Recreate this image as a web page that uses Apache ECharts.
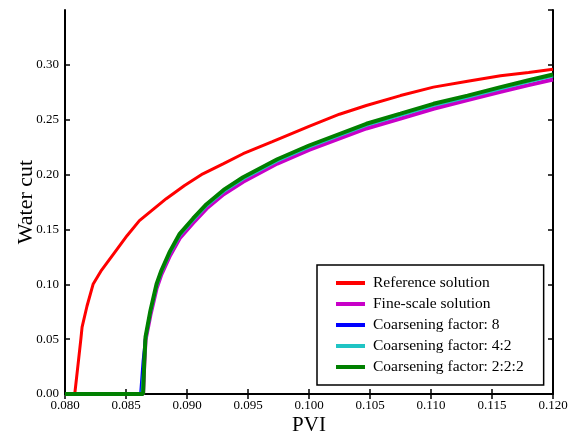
<!DOCTYPE html>
<html>
<head>
<meta charset="utf-8">
<script src="https://cdn.jsdelivr.net/npm/echarts@6/dist/echarts.min.js"></script>
<style>html,body{margin:0;padding:0;background:#fff}#c{width:577px;height:441px}</style>
</head>
<body>
<div id="c"></div>
<script>
var seriesNames = ['Reference solution','Fine-scale solution','Coarsening factor: 8','Coarsening factor: 4:2','Coarsening factor: 2:2:2'];
var xTicks = [0.080,0.085,0.090,0.095,0.100,0.105,0.110,0.115,0.120];
var yTicks = [0.00,0.05,0.10,0.15,0.20,0.25,0.30];

var refSolution = [[0.080,0],[0.0808,0],[0.0811,0.03],[0.0813,0.05],[0.0814,0.061],[0.0818,0.08],[0.0823,0.10],[0.0830,0.113],[0.0840,0.128],[0.0851,0.1445],[0.0861,0.158],[0.0872,0.168],[0.0883,0.178],[0.0898,0.190],[0.0913,0.2007],[0.0930,0.210],[0.0946,0.219],[0.0970,0.230],[0.1000,0.244],[0.1025,0.255],[0.1047,0.263],[0.1075,0.272],[0.1102,0.2797],[0.1130,0.285],[0.1157,0.290],[0.1180,0.293],[0.1200,0.296]];
var fineScale = [[0.080,0],[0.0864,0],[0.0865,0.028],[0.0866,0.049],[0.0870,0.072],[0.0875,0.096],[0.0879,0.109],[0.0886,0.126],[0.0894,0.142],[0.0905,0.156],[0.0916,0.169],[0.0930,0.182],[0.0946,0.1935],[0.0974,0.210],[0.1000,0.2225],[0.1047,0.242],[0.1075,0.251],[0.1102,0.260],[0.1130,0.268],[0.1157,0.2755],[0.1180,0.2815],[0.1200,0.2867]];
var coarse8 = [[0.080,0],[0.0862,0],[0.0864,0.03],[0.0866,0.051],[0.0870,0.075],[0.0875,0.099],[0.0879,0.112],[0.0886,0.129],[0.0894,0.145],[0.0905,0.159],[0.0916,0.172],[0.0930,0.185],[0.0946,0.197],[0.0974,0.2132],[0.1000,0.2257],[0.1047,0.2455],[0.1075,0.2547],[0.1102,0.2637],[0.1130,0.2712],[0.1157,0.2789],[0.1180,0.2852],[0.1200,0.2904]];
var coarse42 = [[0.080,0],[0.0863,0],[0.0865,0.029],[0.0866,0.050],[0.0870,0.074],[0.0875,0.098],[0.0879,0.111],[0.0886,0.1285],[0.0894,0.1445],[0.0905,0.1585],[0.0916,0.1715],[0.0930,0.1845],[0.0946,0.196],[0.0974,0.2125],[0.1000,0.225],[0.1047,0.2448],[0.1075,0.254],[0.1102,0.263],[0.1130,0.2705],[0.1157,0.2782],[0.1180,0.2845],[0.1200,0.2897]];
var coarse222 = [[0.080,0],[0.0864,0],[0.0865,0.03],[0.0866,0.052],[0.0870,0.076],[0.0875,0.10],[0.0879,0.1126],[0.0886,0.130],[0.0894,0.146],[0.0905,0.160],[0.0916,0.173],[0.0930,0.186],[0.0946,0.1976],[0.0974,0.214],[0.1000,0.2265],[0.1047,0.2463],[0.1075,0.2555],[0.1102,0.2645],[0.1130,0.272],[0.1157,0.2797],[0.1180,0.2860],[0.1200,0.2912]];

var colors = ['#ff0000','#c800c8','#0000ff','#20c4c4','#008000'];
var widths = [3,4,3,3,4];
var datas = [refSolution, fineScale, coarse8, coarse42, coarse222];
var font = 'Liberation Serif';

var series = seriesNames.map(function(n,i){
  return {
    name:n, type:'line', data:datas[i], showSymbol:false, symbol:'none',
    smooth:false, animation:false, z: 2+i,
    lineStyle:{color:colors[i], width:widths[i]},
    itemStyle:{color:colors[i]}
  };
});

var axisLine = {show:true, lineStyle:{color:'#000', width:2}};
var chart = echarts.init(document.getElementById('c'));
chart.setOption({
  animation:false,
  backgroundColor:'#fff',
  grid:{left:65, right:24, top:10, bottom:47},
  legend:{
    orient:'vertical', left:317, top:265,
    padding:[10,20,10,19], itemGap:5,
    itemWidth:29, itemHeight:16,
    icon:'path://M0,0 L29,0 L29,4 L0,4 Z',
    borderColor:'#000', borderWidth:1.5, backgroundColor:'#fff',
    textStyle:{fontFamily:font, fontSize:15.5, color:'#000', padding:[0,0,0,3]},
    data:seriesNames
  },
  xAxis:[{
    type:'value', min:0.08, max:0.12, interval:0.005,
    name:'PVI', nameLocation:'middle', nameGap:21, nameMoveOverlap:false,
    nameTextStyle:{fontFamily:font, fontSize:21, color:'#000'},
    axisLine:axisLine, splitLine:{show:false},
    axisTick:{show:true, inside:true, length:5, lineStyle:{color:'#000', width:1.5}},
    axisLabel:{fontFamily:font, fontSize:13, color:'#000', margin:5,
      formatter:function(v){return v.toFixed(3);}}
  },{
    type:'value', position:'top', min:0.08, max:0.12, interval:0.005,
    axisLine:axisLine, splitLine:{show:false},
    axisTick:{show:true, inside:true, length:5, lineStyle:{color:'#000', width:1.5}},
    axisLabel:{show:false}
  }],
  yAxis:[{
    type:'value', min:0, max:0.35, interval:0.05,
    name:'Water cut', nameLocation:'middle', nameGap:28, nameMoveOverlap:false,
    nameTextStyle:{fontFamily:font, fontSize:22, color:'#000'},
    axisLine:axisLine, splitLine:{show:false},
    axisTick:{show:true, inside:true, length:5, lineStyle:{color:'#000', width:1.5}},
    axisLabel:{fontFamily:font, fontSize:13, color:'#000', margin:6, showMaxLabel:false,
      formatter:function(v){return v > 0.34 ? '' : v.toFixed(2);}}
  },{
    type:'value', position:'right', min:0, max:0.35, interval:0.05,
    axisLine:axisLine, splitLine:{show:false},
    axisTick:{show:true, inside:true, length:5, lineStyle:{color:'#000', width:1.5}},
    axisLabel:{show:false}
  }],
  series:series
});
</script>
</body>
</html>
